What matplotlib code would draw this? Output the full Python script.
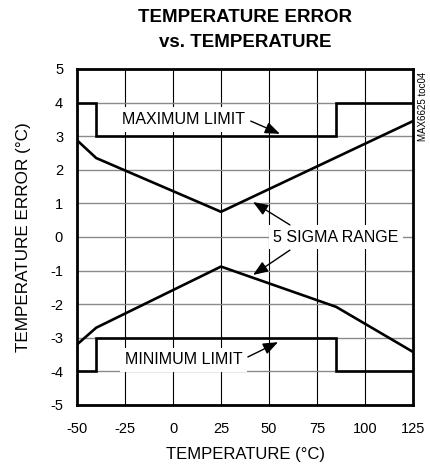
import matplotlib
matplotlib.use("Agg")
import matplotlib.pyplot as plt

# ---- data ----
limit_temp = [-50, -40, -40, 85, 85, 125]
max_limit = [4, 4, 3, 3, 4, 4]
min_limit = [-4, -4, -3, -3, -4, -4]

sigma_hi_temp = [-50, -40, 25, 125]
sigma_hi = [2.88, 2.35, 0.75, 3.45]
sigma_lo_temp = [-50, -40, 25, 85, 125]
sigma_lo = [-3.2, -2.7, -0.88, -2.08, -3.42]

x_ticks = [-50, -25, 0, 25, 50, 75, 100, 125]
y_ticks = [5, 4, 3, 2, 1, 0, -1, -2, -3, -4, -5]

FAM = ['Liberation Sans', 'DejaVu Sans']
plt.rcParams['font.family'] = FAM

fig = plt.figure(figsize=(4.30, 4.68), dpi=100)
ax = fig.add_axes([77/430, 1 - 405/468, 336/430, 336/468])

ax.set_xlim(-50, 125)
ax.set_ylim(-5, 5)
ax.set_xticks(x_ticks)
ax.set_yticks(y_ticks)
ax.set_xticklabels([str(v) for v in x_ticks])
ax.set_yticklabels([str(v) for v in y_ticks])
ax.tick_params(length=0, labelsize=10.5, colors='black')
ax.tick_params(axis='x', pad=12)
ax.tick_params(axis='y', pad=10)

for x in x_ticks[1:-1]:
    ax.axvline(x, color='black', lw=0.8, zorder=1)
for y in y_ticks[1:-1]:
    ax.axhline(y, color='#8a8a8a', lw=1.0, zorder=1)

for s in ax.spines.values():
    s.set_linewidth(2.0)
    s.set_zorder(5)

lw = 1.9
ax.plot(limit_temp, max_limit, color='black', lw=lw, zorder=4, solid_joinstyle='miter')
ax.plot(limit_temp, min_limit, color='black', lw=lw, zorder=4, solid_joinstyle='miter')
ax.plot(sigma_hi_temp, sigma_hi, color='black', lw=lw, zorder=4)
ax.plot(sigma_lo_temp, sigma_lo, color='black', lw=lw, zorder=4)

box = dict(boxstyle='square,pad=0.3', fc='white', ec='none')
tfs = 11.5
ax.text(5.5, 3.5, 'MAXIMUM LIMIT', fontsize=tfs, ha='center', va='center', bbox=box, zorder=3)
ax.text(5.5, -3.66, 'MINIMUM LIMIT', fontsize=tfs, ha='center', va='center', bbox=box, zorder=3)
ax.text(84.9, 0.0, '5 SIGMA RANGE', fontsize=tfs, ha='center', va='center', bbox=box, zorder=3)

ap = dict(arrowstyle='-|>,head_length=0.9,head_width=0.35', color='black', lw=1.0,
          shrinkA=0, shrinkB=0, mutation_scale=10)
ax.annotate('', xy=(55.7, 3.07), xytext=(40.5, 3.45), arrowprops=ap, zorder=6)
ax.annotate('', xy=(41.7, 1.04), xytext=(60.9, 0.36), arrowprops=ap, zorder=6)
ax.annotate('', xy=(41.7, -1.13), xytext=(60.9, -0.39), arrowprops=ap, zorder=6)
ax.annotate('', xy=(54.7, -3.13), xytext=(39.0, -3.57), arrowprops=ap, zorder=6)

ax.set_xlabel('TEMPERATURE (°C)', fontsize=12)
ax.xaxis.set_label_coords((245 - 77) / 336, -(455 - 405) / 336)
ax.xaxis.label.set_va('center')
ax.set_ylabel('TEMPERATURE ERROR (°C)', fontsize=12.3)
ax.yaxis.set_label_coords((24 - 77) / 336, 0.5)
ax.yaxis.label.set_va('center')

fig.text(245/430, 1 - 17.5/468, 'TEMPERATURE ERROR', fontsize=13.5, fontweight='bold',
         ha='center', va='center')
fig.text(245/430, 1 - 42.5/468, 'vs. TEMPERATURE', fontsize=13.5, fontweight='bold',
         ha='center', va='center')
fig.text(423/430, 1 - 106/468, 'MAX6625 toc04', fontsize=7, rotation=90,
         ha='center', va='center')

fig.savefig('out.png', dpi=100)
